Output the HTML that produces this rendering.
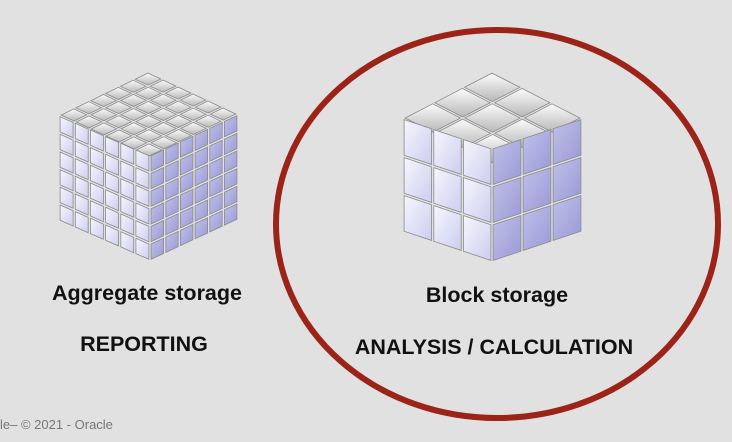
<!DOCTYPE html>
<html><head><meta charset="utf-8"><style>
html,body{margin:0;padding:0;background:#e0e1e0;}
#wrap{position:relative;width:732px;height:442px;overflow:hidden;background:#e0e1e0;font-family:"Liberation Sans",Arial,sans-serif;}
.t{position:absolute;font-weight:bold;color:#111;white-space:nowrap;transform:translateX(-50%);}
</style></head><body><div id="wrap">
<svg id="s" width="732" height="442" style="position:absolute;left:0;top:0">
<defs>
<linearGradient id="gl" x1="0" y1="0" x2="1" y2="1"><stop offset="0" stop-color="#f6f6fd"/><stop offset="1" stop-color="#cdcdf0"/></linearGradient>
<linearGradient id="gr" x1="0" y1="0" x2="1" y2="1"><stop offset="0" stop-color="#c0c0ea"/><stop offset="1" stop-color="#9a9ad6"/></linearGradient>
<linearGradient id="gt" x1="0" y1="0" x2="0" y2="1"><stop offset="0" stop-color="#fbfbfb"/><stop offset="1" stop-color="#b8b8b8"/></linearGradient>
</defs>
<ellipse cx="497" cy="224" rx="221" ry="194" fill="none" stroke="#9b2317" stroke-width="6"/>
</svg>
<div class="t" style="left:147px;top:281px;font-size:21.5px">Aggregate storage</div>
<div class="t" style="left:144px;top:332px;font-size:21.5px">REPORTING</div>
<div class="t" style="left:497px;top:283px;font-size:21.5px">Block storage</div>
<div class="t" style="left:494px;top:335px;font-size:21.5px">ANALYSIS / CALCULATION</div>
<div style="position:absolute;left:0;top:417px;font-size:13px;color:#777;">le– © 2021 - Oracle</div>
</div>
<script>
var s=document.getElementById('s');
function poly(pts,fill){var p=document.createElementNS('http://www.w3.org/2000/svg','polygon');p.setAttribute('points',pts.map(function(q){return q[0].toFixed(1)+','+q[1].toFixed(1)}).join(' '));p.setAttribute('fill',fill);p.setAttribute('stroke','#8a8a8a');p.setAttribute('stroke-width','0.8');s.appendChild(p);}
function cell(o,u,v,a,b,n,g,fill){var p=function(x,y){return [o[0]+u[0]*x/n+v[0]*y/n,o[1]+u[1]*x/n+v[1]*y/n];};
var d=g/Math.hypot(u[0]/n,u[1]/n), e=g/Math.hypot(v[0]/n,v[1]/n);
poly([p(a+d,b+e),p(a+1-d,b+e),p(a+1-d,b+1-e),p(a+d,b+1-e)],fill);}
function cube(T,L,R,N,h,n,g){
var u=[R[0]-T[0],R[1]-T[1]],v=[L[0]-T[0],L[1]-T[1]];
for(var i=0;i<n;i++)for(var j=0;j<n;j++)cell(T,u,v,i,j,n,g,'url(#gt)');
var u2=[N[0]-L[0],N[1]-L[1]],dn=[0,h];
for(var i=0;i<n;i++)for(var j=0;j<n;j++)cell(L,u2,dn,i,j,n,g,'url(#gl)');
var u3=[R[0]-N[0],R[1]-N[1]];
for(var i=0;i<n;i++)for(var j=0;j<n;j++)cell(N,u3,dn,i,j,n,g,'url(#gr)');
}
cube([148,72],[59,115],[238,114],[150,155],106,6,1.2);
cube([492,72],[403,118],[582,118],[492,148],114,3,1.2);
</script>
</body></html>
